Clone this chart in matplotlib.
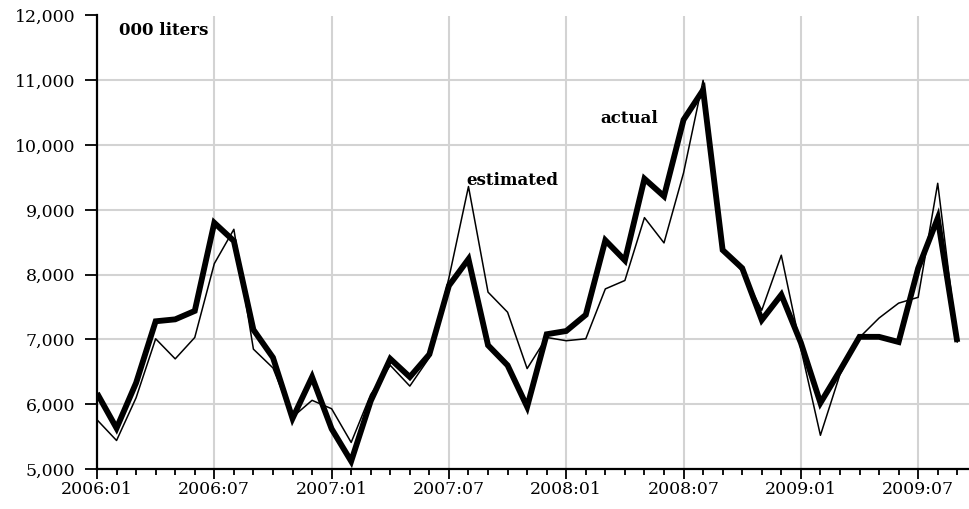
import numpy as np
import matplotlib
matplotlib.use("Agg")
import matplotlib.pyplot as plt

# 月份标签 2006:01 ... 2009:09
years = [2006, 2007, 2008, 2009]
months = ["%d:%02d" % (y, m) for y in years for m in range(1, 13)][:45]

# 实际值 (粗线)
actual = [6170, 5630, 6330, 7280, 7310, 7440, 8800, 8520, 7150, 6720,
          5780, 6420, 5620, 5120, 6050, 6700, 6420, 6770, 7830, 8240,
          6910, 6600, 5960, 7080, 7130, 7380, 8530, 8220, 9480, 9210,
          10390, 10850, 8380, 8100, 7300, 7690, 6950, 6020, 6520, 7040,
          7040, 6960, 8100, 8870, 6960]

# 估计值 (细线)
estimated = [5760, 5440, 6100, 7010, 6700, 7030, 8170, 8700, 6850, 6560,
             5800, 6060, 5930, 5410, 6150, 6600, 6280, 6720, 7950, 9360,
             7730, 7420, 6550, 7030, 6980, 7010, 7780, 7910, 8880, 8490,
             9570, 11000, 8400, 8050, 7450, 8300, 6860, 5520, 6460, 7030,
             7330, 7560, 7650, 9410, 6960]

yticks = [5000, 6000, 7000, 8000, 9000, 10000, 11000, 12000]


def plot_liters():
    """绘制实际值和估计值"""
    plt.rcParams['font.family'] = ['DejaVu Serif']
    x = np.arange(len(months))

    fig = plt.figure(figsize=(9.69, 5.09), dpi=100)
    ax = fig.add_axes([97 / 969, 1 - 469 / 509, 1 - 97 / 969, (469 - 15.5) / 509])

    ax.plot(x, estimated, color='black', lw=1.1, zorder=3)
    ax.plot(x, actual, color='black', lw=4.2, zorder=4,
            solid_joinstyle='miter', solid_capstyle='butt')

    ax.set_xlim(0, 44.6)
    ax.set_ylim(5000, 12000)

    # 刻度
    ax.set_xticks(x[::6])
    ax.set_xticklabels(months[::6])
    ax.set_xticks(x, minor=True)
    ax.set_yticks(yticks)
    ax.set_yticklabels(["{:,}".format(v) for v in yticks])
    ax.tick_params(axis='x', which='major', length=7.5, width=1.3, pad=1, labelsize=12.5)
    ax.tick_params(axis='x', which='minor', length=4.5, width=1.3)
    ax.tick_params(axis='y', length=8.5, width=1.3, pad=7, labelsize=12.5)

    # 网格线
    ax.grid(axis='both', which='major', color='#d3d3d3', lw=1.5, zorder=0)
    ax.yaxis.get_gridlines()[-1].set_visible(False)
    ax.set_axisbelow(True)

    for s in ['top', 'right']:
        ax.spines[s].set_visible(False)
    for s in ['left', 'bottom']:
        ax.spines[s].set_linewidth(1.6)

    # 文字标签
    ax.text(1.13, 11700, "000 liters", fontsize=12, fontweight='bold', va='baseline')
    ax.text(18.87, 9390, "estimated", fontsize=12, fontweight='bold', va='baseline')
    ax.text(25.73, 10340, "actual", fontsize=12, fontweight='bold', va='baseline')

    fig.savefig("out.png", dpi=100)


if __name__ == "__main__":
    plot_liters()
